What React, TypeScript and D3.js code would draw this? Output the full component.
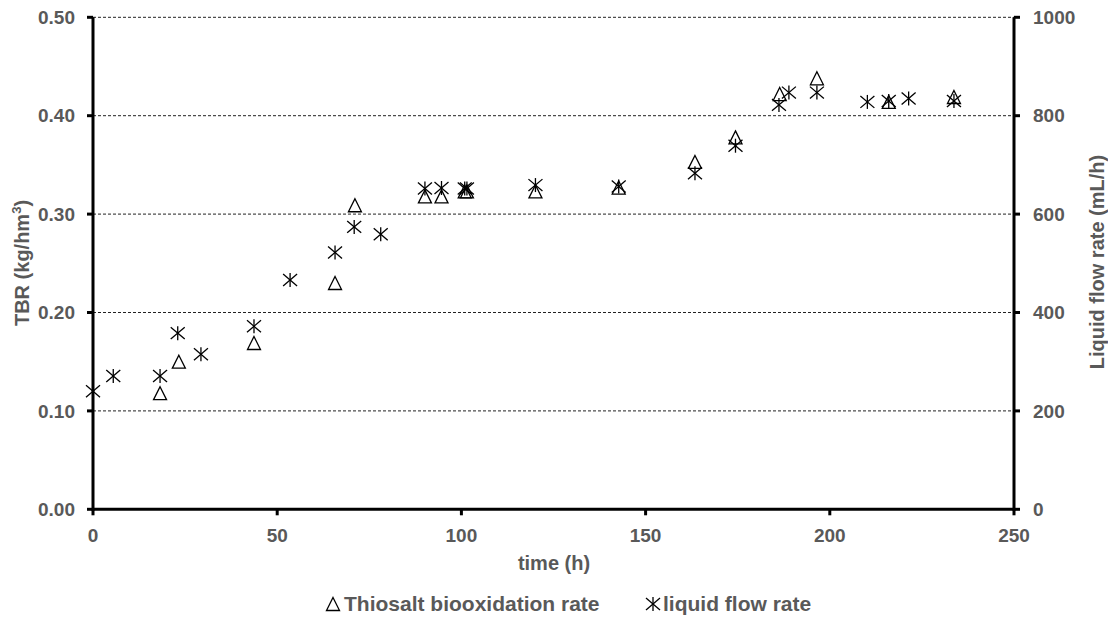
import React from "react";
import * as d3 from "d3";

// thiosalt biooxidation rate (TBR, kg/hm3) - left axis
const tbrTime = [18.2, 23.3, 43.7, 65.7, 71.1, 90.1, 94.6, 100.9, 101.5, 120.1, 142.7, 163.4, 174.4, 186.4, 196.5, 216, 233.7];
const tbrValue = [0.118, 0.15, 0.169, 0.23, 0.309, 0.318, 0.318, 0.323, 0.323, 0.323, 0.327, 0.353, 0.378, 0.422, 0.438, 0.414, 0.419];

// liquid flow rate (mL/h) - right axis
const flowTime = [0, 5.5, 18.2, 23, 29.3, 43.7, 53.5, 65.7, 70.9, 78.1, 90.1, 94.6, 100.9, 101.5, 120.1, 142.7, 163.4, 174.4, 186.2, 188.9, 196.5, 210.2, 216, 221.4, 233.7];
const flowValue = [240, 271, 271, 358, 315, 372, 466, 522, 574, 559, 652, 653, 652, 652, 659, 656, 683, 739, 822, 847, 847, 828, 830, 835, 830];

const xTicks = [0, 50, 100, 150, 200, 250];
const leftTicks = [0, 0.1, 0.2, 0.3, 0.4, 0.5];
const rightTicks = [0, 200, 400, 600, 800, 1000];

const W = 1108;
const H = 626;
const grey = "#595959";
const font = "'Liberation Sans', Arial, sans-serif";

const Triangle = ({ x, y, s = 13 }: { x: number; y: number; s?: number }) => {
  const h = s;
  const p = `M${x},${y - h / 2}L${x + s / 2},${y + h / 2}L${x - s / 2},${y + h / 2}Z`;
  return <path d={p} fill="none" stroke="#000" strokeWidth={1.3} />;
};

const Star = ({ x, y, r = 7 }: { x: number; y: number; r?: number }) => (
  <g stroke="#000" strokeWidth={1.3}>
    <line x1={x} y1={y - r} x2={x} y2={y + r} />
    <line x1={x - r} y1={y - r * 0.85} x2={x + r} y2={y + r * 0.85} />
    <line x1={x - r} y1={y + r * 0.85} x2={x + r} y2={y - r * 0.85} />
  </g>
);

const App = () => {
  const x = d3.scaleLinear().domain([0, 250]).range([93, 1014]);
  const yL = d3.scaleLinear().domain([0, 0.5]).range([509.3, 17.3]);
  const yR = d3.scaleLinear().domain([0, 1000]).range([509.3, 17.3]);
  const fmt = d3.format(".2f");

  return (
    <svg width={W} height={H} style={{ position: "absolute", left: 0, top: 0 }} fontFamily={font}>
      <rect width={W} height={H} fill="#fff" />
      {/* gridlines */}
      {leftTicks.slice(1).map(t => (
        <line key={t} x1={x(0)} x2={x(250)} y1={yL(t)} y2={yL(t)} stroke="#222" strokeWidth={1} strokeDasharray="3,2" />
      ))}
      {/* axes */}
      <line x1={x(0)} x2={x(250)} y1={yL(0)} y2={yL(0)} stroke="#000" strokeWidth={3} />
      <line x1={x(0)} x2={x(0)} y1={yL(0) + 1.5} y2={yL(0.5)} stroke="#000" strokeWidth={3} />
      <line x1={x(250)} x2={x(250)} y1={yL(0) + 1.5} y2={yL(0.5)} stroke="#000" strokeWidth={3} />
      {leftTicks.map(t => (
        <g key={"l" + t}>
          <line x1={x(0) - 6} x2={x(0)} y1={yL(t)} y2={yL(t)} stroke="#000" strokeWidth={3} />
          <text x={75} y={yL(t)} dy="0.35em" textAnchor="end" fontSize={19} fontWeight="bold" fill={grey}>{fmt(t)}</text>
        </g>
      ))}
      {rightTicks.map(t => (
        <g key={"r" + t}>
          <line x1={x(250)} x2={x(250) + 6} y1={yR(t)} y2={yR(t)} stroke="#000" strokeWidth={3} />
          <text x={1033} y={yR(t)} dy="0.35em" textAnchor="start" fontSize={19} fontWeight="bold" fill={grey}>{t}</text>
        </g>
      ))}
      {xTicks.map(t => (
        <g key={"x" + t}>
          <line x1={x(t)} x2={x(t)} y1={yL(0)} y2={yL(0) + 6} stroke="#000" strokeWidth={3} />
          <text x={x(t)} y={535} dy="0.35em" textAnchor="middle" fontSize={19} fontWeight="bold" fill={grey}>{t}</text>
        </g>
      ))}
      {/* axis titles */}
      <text x={554} y={563} dy="0.35em" textAnchor="middle" fontSize={20} fontWeight="bold" fill={grey}>time (h)</text>
      <text transform={`translate(22,263) rotate(-90)`} dy="0.35em" textAnchor="middle" fontSize={20} fontWeight="bold" fill={grey}>
        TBR (kg/hm<tspan dy="-8" fontSize={13}>3</tspan><tspan dy="8">)</tspan>
      </text>
      <text transform={`translate(1097,262) rotate(-90)`} dy="0.35em" textAnchor="middle" fontSize={20} fontWeight="bold" fill={grey}>
        Liquid flow rate (mL/h)
      </text>
      {/* data */}
      {tbrTime.map((t, i) => (
        <Triangle key={"t" + i} x={x(t)} y={yL(tbrValue[i])} />
      ))}
      {flowTime.map((t, i) => (
        <Star key={"f" + i} x={x(t)} y={yR(flowValue[i])} />
      ))}
      {/* legend */}
      <Triangle x={333} y={604} s={13} />
      <text x={344} y={604} dy="0.35em" fontSize={21} fontWeight="bold" fill={grey}>Thiosalt biooxidation rate</text>
      <Star x={653} y={604} r={7} />
      <text x={663} y={604} dy="0.35em" fontSize={21} fontWeight="bold" fill={grey}>liquid flow rate</text>
    </svg>
  );
};

export default App;
